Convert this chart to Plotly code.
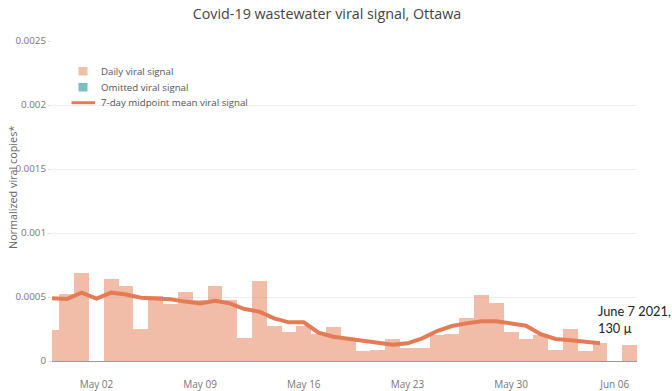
import plotly.graph_objects as go
import pandas as pd

# ---------------- data ----------------
daily_dates = pd.date_range("2021-04-29", "2021-06-07", freq="D").strftime("%Y-%m-%d").tolist()
daily_values = [
    0.000242, 0.000523, 0.000690, None, 0.000638, 0.000586, 0.000248, 0.000508,
    0.000445, 0.000541, 0.000477, 0.000586, 0.000477, 0.000182, 0.000628, 0.000276,
    0.000224, 0.000276, 0.000210, 0.000268, 0.000164, 0.000081, 0.000086, 0.000172,
    0.000100, 0.000100, 0.000203, 0.000210, 0.000336, 0.000513, 0.000456, 0.000227,
    0.000174, 0.000203, 0.000086, 0.000250, 0.000076, 0.000138, None, 0.000125,
]

omitted_dates = ["2021-05-02", "2021-06-06"]
omitted_values = [None, None]

mean_dates = pd.date_range("2021-04-29", "2021-06-05", freq="D").strftime("%Y-%m-%d").tolist()
mean_values = [
    0.000490, 0.000484, 0.000534, 0.000487, 0.000534, 0.000520, 0.000495, 0.000490,
    0.000482, 0.000464, 0.000450, 0.000471, 0.000450, 0.000406, 0.000386, 0.000333,
    0.000302, 0.000302, 0.000221, 0.000190, 0.000174, 0.000156, 0.000138, 0.000128,
    0.000138, 0.000177, 0.000234, 0.000273, 0.000294, 0.000310, 0.000310, 0.000294,
    0.000276, 0.000210, 0.000172, 0.000162, 0.000151, 0.000138,
]

y_ticks = [0, 0.0005, 0.001, 0.0015, 0.002, 0.0025]
y_tick_text = ["0", "0.0005", "0.001", "0.0015", "0.002", "0.0025"]

title_text = "Covid-19 wastewater viral signal, Ottawa"
y_title = "Normalized viral copies*"
note_text = "June 7 2021,<br>130 µ"
legend_names = ["Daily viral signal", "Omitted viral signal", "7-day midpoint mean viral signal"]

# ---------------- figure ----------------
W, H = 672, 391
L, R, T, B = 52, 35, 41, 30
PW, PH = W - L - R, H - T - B


def px(x):
    return (x - L) / PW


def py(y):
    return 1 - (y - T) / PH


line_color = "rgb(229,123,84)"
bar_color = "rgba(229,123,84,0.5)"
omit_color = "rgb(122,190,190)"

fig = go.Figure()
fig.add_trace(go.Bar(
    x=daily_dates, y=daily_values, name=legend_names[0],
    marker=dict(color=line_color, line=dict(width=0)), opacity=0.5, showlegend=False,
))
fig.add_trace(go.Bar(
    x=omitted_dates, y=omitted_values, name=legend_names[1],
    marker=dict(color=omit_color, line=dict(width=0)), showlegend=False,
))
fig.add_trace(go.Scatter(
    x=mean_dates, y=mean_values, name=legend_names[2],
    mode="lines", line=dict(color=line_color, width=4), showlegend=False,
))

fig.update_layout(
    width=W, height=H,
    margin=dict(l=L, r=R, t=T, b=B, autoexpand=False),
    paper_bgcolor="white", plot_bgcolor="white",
    font=dict(family="Open Sans", size=10, color="#666"),
    barmode="overlay", bargap=0,
    title=dict(text=title_text, x=327 / W, xanchor="center", y=1 - 14 / H, yanchor="middle",
               yref="container", font=dict(family="Open Sans", size=14.3, color="#444")),
    showlegend=False,
)

fig.update_xaxes(
    range=["2021-04-29", "2021-06-07 12:00"],
    tick0="2021-05-02", dtick=7 * 24 * 3600 * 1000, tickformat="%b %d",
    ticks="outside", ticklen=14, tickcolor="rgba(0,0,0,0)",
    showgrid=False, showline=True, linecolor="#999", linewidth=1,
    tickfont=dict(size=10, color="#777"), automargin=False,
)
fig.update_yaxes(
    range=[0, 0.0025], tickvals=y_ticks, ticktext=y_tick_text,
    ticks="outside", ticklen=3, tickcolor="#ddd",
    showgrid=True, gridcolor="#eee", zeroline=True, zerolinecolor="#999", zerolinewidth=1,
    tickfont=dict(size=9.8, color="#777"), automargin=False,
)

# y-axis title
fig.add_annotation(
    text=y_title, xref="paper", yref="paper", x=px(12), y=py(187),
    showarrow=False, textangle=-90, xanchor="center", yanchor="middle",
    font=dict(family="Open Sans", size=10.8, color="#666"),
)

# manual legend (white box hides the gridline behind it)
fig.add_shape(type="rect", xref="paper", yref="paper", layer="between",
              x0=px(68), x1=px(252), y0=py(110), y1=py(62),
              fillcolor="white", line=dict(width=0))
fig.add_shape(type="rect", xref="paper", yref="paper",
              x0=px(78.5), x1=px(87.5), y0=py(75.5), y1=py(67),
              fillcolor=bar_color, line=dict(width=0))
fig.add_shape(type="rect", xref="paper", yref="paper",
              x0=px(78.5), x1=px(87.5), y0=py(91.5), y1=py(83),
              fillcolor=omit_color, line=dict(width=0))
fig.add_shape(type="line", xref="paper", yref="paper",
              x0=px(71.5), x1=px(95), y0=py(102.7), y1=py(102.7),
              line=dict(color=line_color, width=3))
for name, yy in zip(legend_names, [71, 87.3, 102.7]):
    fig.add_annotation(
        text=name, xref="paper", yref="paper", x=px(99), y=py(yy),
        showarrow=False, xanchor="left", yanchor="middle",
        font=dict(family="Open Sans", size=9.7, color="#555"),
    )

# white cover box behind the note
fig.add_shape(
    type="rect", xref="paper", yref="paper", layer="between",
    x0=px(588), x1=px(672), y0=py(338), y1=py(290),
    fillcolor="white", line=dict(width=0),
)
fig.add_annotation(
    text=note_text, xref="paper", yref="paper", x=px(596), y=py(301),
    showarrow=False, xanchor="left", yanchor="top", align="left",
    font=dict(family="Lato", size=12.8, color="#222"),
)

fig.write_html("out.html", config={"displayModeBar": False},
               post_script="document.body.style.margin='0';")
